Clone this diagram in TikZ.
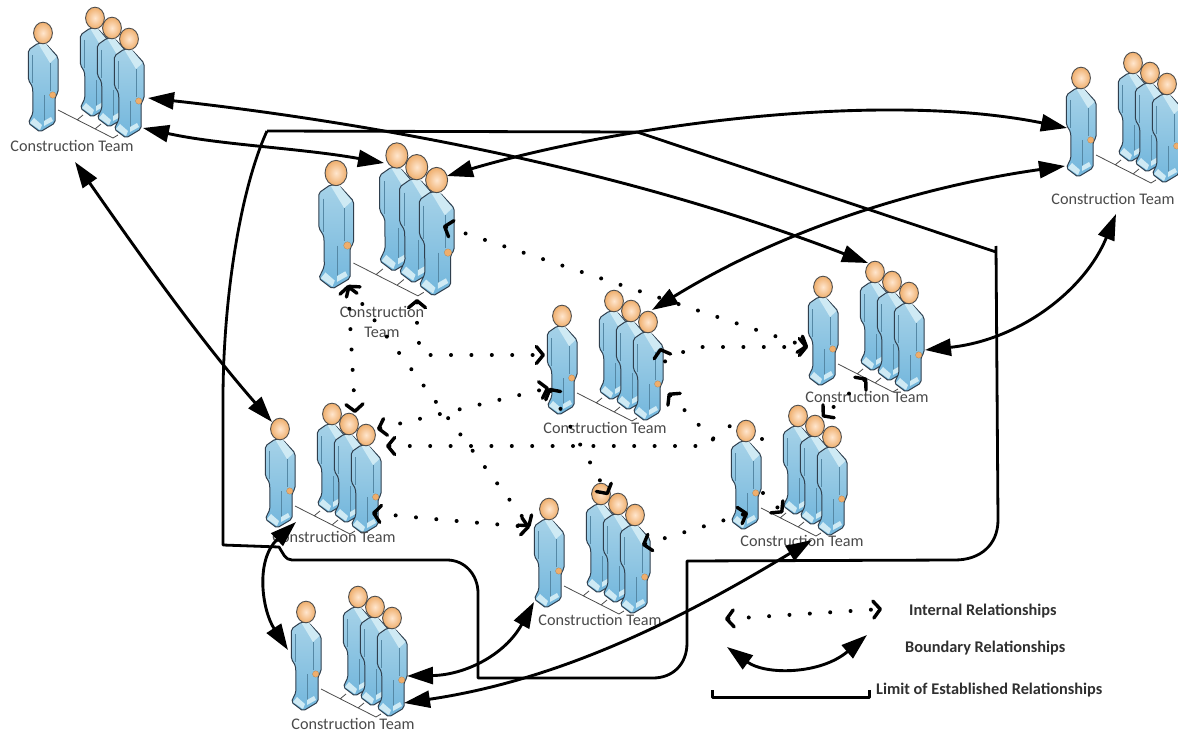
\documentclass[tikz,border=0pt]{standalone}
\usepackage{fontspec}
\setmainfont{Carlito}
\usetikzlibrary{arrows.meta}
\definecolor{bodyTop}{HTML}{A6D2E8}
\definecolor{bodyBot}{HTML}{72B6DC}
\definecolor{collarC}{HTML}{CFEAF4}
\definecolor{edgeC}{HTML}{2F3F4E}
\definecolor{headIn}{HTML}{FFE6CE}
\definecolor{headOut}{HTML}{EFAE6C}
\definecolor{labelC}{HTML}{4A4A4A}
\definecolor{legC}{HTML}{303030}
\tikzset{
  chev/.tip={Straight Barb[length=7pt,width=17pt,line width=3.4pt,round]},
  bnd/.style={line width=2.9pt,{Triangle[length=26pt,width=17pt]}-{Triangle[length=26pt,width=17pt]}},
  plaindots/.style={line width=4pt,line cap=round,dash pattern=on 0pt off 20.4pt},
  dots/.style={plaindots,chev-chev},
  frameline/.style={line width=2.8pt,line join=round,black},
  teamlabel/.style={font=\fontsize{16.2}{20}\selectfont,text=labelC,inner sep=0pt,align=center},
  legendtext/.style={font=\fontsize{16.3}{18}\selectfont\bfseries,text=legC,inner sep=0pt,anchor=west},
  platform/.style={line width=0.8pt,draw=black!70}
}
\newcommand\person[2]{%
  \begin{scope}[shift={(#1,#2)}]
    \shadedraw[top color=bodyTop,bottom color=bodyBot,draw=edgeC,line width=1pt,rounded corners=2pt]
      (-4.7,10)--(-14.7,17)--(-14.7,47)--(-10.3,54)--(-10,80)--(-14.7,90)--(-3,99)--(12,90)--(12,64)--(15,60)--(15,24)--(3,11)--cycle;
    \fill[collarC] (-4.5,11)--(3,11)--(13.5,24)--(7,30)--cycle;
    \draw[bodyBot!75!black,line width=0.6pt] (-11,22)--(-11,50) (7,30)--(7,58) (1.5,62)--(1.5,88);
    \fill[collarC] (-13,90)--(-3,97)--(-1,92)--(-9,85)--cycle (1,93)--(10,88)--(8,84)--(1,88)--cycle;
    \shadedraw[inner color=headIn,outer color=headOut,draw=black!70,line width=0.9pt]
      (0,0) ellipse [x radius=9.4,y radius=10.8];
    \fill[headOut,draw=headOut!70!black,line width=0.2pt] (9.7,62) circle (3.2);
  \end{scope}}
\newcommand\team[3]{%
  \begin{scope}[shift={(#1,#2)},scale=#3]
    \draw[platform] (15,77)--(70,105)--(75,102) (34,87)--(40,82) (52,96)--(58,91);
    \person{52}{-15}\person{69}{-5}\person{86}{6}\person{0}{0}
  \end{scope}}
\begin{document}
\begin{tikzpicture}[x=1pt,y=-1pt]
\useasboundingbox (0,0) rectangle (1178,733);
\fill[white] (0,0) rectangle (1178,733);
% teams
\team{43}{33}{1}
\team{1081}{78}{1}
\team{336}{173}{1.17}
\team{562}{316}{1}
\team{823}{287}{1}
\team{280}{429}{1}
\team{549}{509}{1}
\team{746}{431}{1}
\team{306}{612}{1}
\node[teamlabel] (lab1) at (72,146) {Construction Team};
\node[teamlabel] (lab2) at (1113,199) {Construction Team};
\node[teamlabel] (lab3) at (382,322) {Construction\\Team};
\node[teamlabel] (lab4) at (605,428) {Construction Team};
\node[teamlabel] (lab5) at (867,397) {Construction Team};
\node[teamlabel] (lab6) at (334,537) {Construction Team};
\node[teamlabel] (lab7) at (600,620) {Construction Team};
\node[teamlabel] (lab8) at (802,541) {Construction Team};
\node[teamlabel] (lab9) at (353,724) {Construction Team};
% limit frame
\coordinate (fA) at (267,131);
\coordinate (fB) at (637,132);
\coordinate (fC) at (996,252);
\draw[frameline] (fA) -- (fB) -- (fC) (996,246) -- (998,520)
  .. controls (998,545) and (980,560) .. (955,560) -- (687,561) -- (687,643)
  .. controls (687,665) and (672,678) .. (653,678) -- (478,678) -- (478,593)
  .. controls (478,575) and (465,560) .. (447,560) -- (292,560)
  .. controls (285,560) and (283,553) .. (279,547) -- (223,545) -- (223,400)
  .. controls (223,300) and (240,190) .. (fA);
% boundary relationships
\coordinate (bA1) at (148,98);  \coordinate (bA2) at (868,263);
\coordinate (bB1) at (143,128); \coordinate (bB2) at (384,163);
\coordinate (bC1) at (447,176); \coordinate (bC2) at (1067,128);
\coordinate (bD1) at (1065,166);\coordinate (bD2) at (652,310);
\coordinate (bE1) at (75,162);  \coordinate (bE2) at (272,422);
\coordinate (bF1) at (1116,214);\coordinate (bF2) at (925,350);
\coordinate (bG1) at (296,522); \coordinate (bG2) at (288,650);
\coordinate (bH1) at (534,602); \coordinate (bH2) at (407,676);
\coordinate (bI1) at (812,540); \coordinate (bI2) at (404,703);
\draw[bnd] (bA1) .. controls (330,118) and (600,160) .. (bA2);
\draw[bnd] (bB1) .. controls (220,145) and (300,148) .. (bB2);
\draw[bnd] (bC1) .. controls (620,125) and (880,90) .. (bC2);
\draw[bnd] (bD1) .. controls (930,185) and (790,225) .. (bD2);
\draw[bnd] (bE1) .. controls (140,255) and (200,340) .. (bE2);
\draw[bnd] (bF1) .. controls (1085,290) and (1020,340) .. (bF2);
\draw[bnd] (bG1) .. controls (255,560) and (262,610) .. (bG2);
\draw[bnd] (bH1) .. controls (505,655) and (465,675) .. (bH2);
\draw[bnd] (bI1) .. controls (680,620) and (560,680) .. (bI2);
% internal relationships
\coordinate (d3a) at (443,226);  \coordinate (d5a) at (808,347);
\coordinate (d3b) at (348,285);  \coordinate (d6a) at (355,413);
\coordinate (d7a) at (530,527);
\coordinate (d3c) at (417,299);  \coordinate (d4a) at (545,355);
\coordinate (d6b) at (377,429);  \coordinate (d4b) at (549,388);
\coordinate (d6c) at (386,446);
\coordinate (d6d) at (372,513);  \coordinate (d7b) at (608,495);
\coordinate (d4c) at (660,348);  \coordinate (d4d) at (668,393);
\coordinate (d8a) at (783,513);  \coordinate (d8b) at (748,513);
\coordinate (d7c) at (642,545);  \coordinate (d5b) at (867,378);
\coordinate (d8c) at (822,417);
\draw[dots] (d3a) -- (d5a);
\draw[dots] (d3b) -- (d6a);
\draw[dots] (d3b) -- (d7a);
\draw[dots] (d3c) -- (417,337) -- (423,355) -- (d4a);
\draw[dots] (d6b) -- (d4b);
\draw[plaindots,chev-] (d6c) -- (703,446) -- (730,426);
\draw[plaindots] (762,439) -- (773,451);
\draw[dots] (d6d) .. controls (430,519) and (480,523) .. (d7a);
\draw[dots] (d4b) -- (d7b);
\draw[dots] (d5a) -- (696,347) -- (678,354) -- (664,362) -- (d4c);
\draw[plaindots,chev-] (d4d) -- (722,449);
\draw[plaindots,-chev] (763,493) -- (d8a);
\draw[dots] (d7c) -- (d8b);
\draw[dots] (d5b) -- (d8c);
% legend
\coordinate (legA) at (725,619); \coordinate (legB) at (882,609);
\coordinate (legC) at (727,647); \coordinate (legD) at (867,635);
\draw[dots] (legA) -- (legB);
\draw[bnd] (legC) .. controls (765,675) and (820,675) .. (legD);
\draw[frameline,line width=3pt] (712,690) -- (712,697) -- (869,697) -- (869,690);
\node[legendtext] (lg1) at (909,611) {Internal Relationships};
\node[legendtext] (lg2) at (905,648) {Boundary Relationships};
\node[legendtext] (lg3) at (876,690) {Limit of Established Relationships};
\end{tikzpicture}
\end{document}
